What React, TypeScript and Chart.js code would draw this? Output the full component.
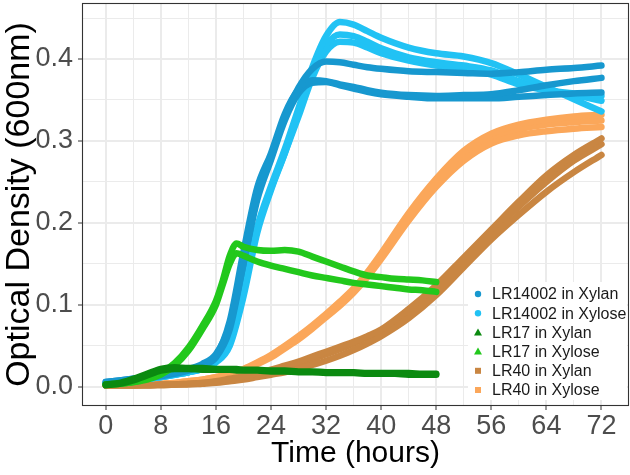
import React, { useEffect, useRef } from 'react';
import { Chart, registerables } from 'chart.js';

Chart.register(...registerables);

const FONT = "'Liberation Sans', Arial, Helvetica, sans-serif";

// ---------- data ----------
const hours = [0, 2, 4, 6, 8, 10, 12, 14, 16, 18, 20, 22, 24, 26, 28, 30, 32, 34, 36, 38, 40, 44, 48, 52, 56, 60, 64, 68, 72];
const hoursLR17 = [0, 2, 4, 6, 8, 10, 12, 14, 16, 17, 18, 19, 20, 22, 24, 26, 28, 30, 32, 34, 36, 38, 40, 42, 44, 46, 48];

// LR14002 in Xylan (3 replicates)
const lr14002XylanA = [0.006, 0.008, 0.010, 0.012, 0.015, 0.018, 0.022, 0.028, 0.040, 0.075, 0.150, 0.232, 0.280, 0.330, 0.365, 0.388, 0.397, 0.396, 0.393, 0.390, 0.388, 0.385, 0.384, 0.383, 0.382, 0.384, 0.387, 0.389, 0.392];
const lr14002XylanB = [0.006, 0.008, 0.010, 0.012, 0.014, 0.017, 0.021, 0.027, 0.038, 0.080, 0.165, 0.243, 0.285, 0.333, 0.363, 0.374, 0.373, 0.369, 0.366, 0.362, 0.359, 0.356, 0.355, 0.356, 0.357, 0.362, 0.368, 0.373, 0.377];
const lr14002XylanC = [0.005, 0.007, 0.009, 0.011, 0.013, 0.016, 0.020, 0.026, 0.036, 0.070, 0.150, 0.228, 0.277, 0.325, 0.358, 0.371, 0.372, 0.368, 0.364, 0.360, 0.357, 0.354, 0.352, 0.352, 0.352, 0.354, 0.356, 0.358, 0.359];

// LR14002 in Xylose (3 replicates)
const lr14002XyloseA = [0.004, 0.006, 0.008, 0.010, 0.012, 0.015, 0.018, 0.023, 0.032, 0.055, 0.120, 0.195, 0.245, 0.290, 0.340, 0.390, 0.428, 0.445, 0.442, 0.434, 0.426, 0.414, 0.407, 0.403, 0.395, 0.381, 0.366, 0.351, 0.336];
const lr14002XyloseB = [0.004, 0.006, 0.008, 0.010, 0.012, 0.015, 0.018, 0.022, 0.030, 0.050, 0.110, 0.188, 0.240, 0.285, 0.335, 0.383, 0.417, 0.430, 0.428, 0.421, 0.413, 0.402, 0.396, 0.392, 0.386, 0.373, 0.362, 0.356, 0.349];
const lr14002XyloseC = [0.004, 0.006, 0.008, 0.010, 0.012, 0.015, 0.018, 0.022, 0.031, 0.052, 0.115, 0.192, 0.242, 0.285, 0.330, 0.377, 0.409, 0.421, 0.420, 0.414, 0.407, 0.398, 0.392, 0.388, 0.381, 0.369, 0.362, 0.358, 0.355];

// LR17 in Xylan (2 replicates)
const lr17XylanA = [0.003, 0.005, 0.010, 0.016, 0.022, 0.024, 0.023, 0.023, 0.022, 0.022, 0.022, 0.022, 0.021, 0.021, 0.020, 0.020, 0.019, 0.019, 0.018, 0.018, 0.018, 0.017, 0.017, 0.017, 0.017, 0.016, 0.016];
const lr17XylanB = [0.002, 0.004, 0.008, 0.014, 0.020, 0.022, 0.022, 0.021, 0.021, 0.021, 0.021, 0.020, 0.020, 0.020, 0.019, 0.019, 0.018, 0.018, 0.017, 0.017, 0.017, 0.016, 0.016, 0.016, 0.015, 0.015, 0.015];

// LR17 in Xylose (2 replicates)
const lr17XyloseA = [0.003, 0.004, 0.006, 0.010, 0.017, 0.029, 0.048, 0.074, 0.105, 0.130, 0.160, 0.175, 0.171, 0.167, 0.166, 0.167, 0.165, 0.159, 0.153, 0.147, 0.141, 0.136, 0.134, 0.132, 0.131, 0.130, 0.128];
const lr17XyloseB = [0.003, 0.004, 0.006, 0.009, 0.015, 0.026, 0.044, 0.070, 0.100, 0.125, 0.150, 0.163, 0.160, 0.153, 0.148, 0.144, 0.140, 0.136, 0.133, 0.130, 0.127, 0.125, 0.123, 0.121, 0.119, 0.118, 0.116];

// LR40 in Xylan (3 replicates)
const lr40XylanA = [0.002, 0.002, 0.002, 0.002, 0.003, 0.003, 0.004, 0.005, 0.007, 0.010, 0.013, 0.017, 0.021, 0.026, 0.031, 0.037, 0.043, 0.049, 0.055, 0.062, 0.070, 0.095, 0.124, 0.158, 0.192, 0.226, 0.258, 0.283, 0.303];
const lr40XylanB = [0.002, 0.002, 0.002, 0.002, 0.002, 0.003, 0.003, 0.004, 0.005, 0.007, 0.009, 0.012, 0.015, 0.018, 0.022, 0.027, 0.032, 0.038, 0.045, 0.053, 0.062, 0.084, 0.112, 0.146, 0.180, 0.210, 0.238, 0.262, 0.283];
const lr40XylanC = [0.002, 0.002, 0.002, 0.002, 0.003, 0.003, 0.004, 0.005, 0.006, 0.009, 0.012, 0.015, 0.019, 0.024, 0.029, 0.034, 0.040, 0.046, 0.053, 0.061, 0.068, 0.092, 0.120, 0.154, 0.188, 0.220, 0.250, 0.276, 0.296];

// LR40 in Xylose (3 replicates)
const lr40XyloseA = [0.002, 0.002, 0.002, 0.003, 0.004, 0.005, 0.007, 0.009, 0.012, 0.016, 0.022, 0.030, 0.039, 0.050, 0.062, 0.075, 0.089, 0.104, 0.120, 0.140, 0.163, 0.212, 0.254, 0.288, 0.309, 0.320, 0.326, 0.330, 0.332];
const lr40XyloseB = [0.002, 0.002, 0.002, 0.003, 0.003, 0.004, 0.006, 0.008, 0.011, 0.015, 0.020, 0.028, 0.036, 0.047, 0.058, 0.071, 0.085, 0.099, 0.115, 0.134, 0.156, 0.203, 0.244, 0.276, 0.297, 0.307, 0.312, 0.315, 0.317];
const lr40XyloseC = [0.002, 0.002, 0.002, 0.003, 0.004, 0.005, 0.007, 0.009, 0.012, 0.016, 0.021, 0.029, 0.038, 0.049, 0.060, 0.073, 0.087, 0.102, 0.118, 0.137, 0.160, 0.208, 0.249, 0.282, 0.303, 0.314, 0.320, 0.323, 0.325];

const seriesNames = ['LR14002 in Xylan', 'LR14002 in Xylose', 'LR17 in Xylan', 'LR17 in Xylose', 'LR40 in Xylan', 'LR40 in Xylose'];
const seriesColors = ['#1798cf', '#21c2f4', '#0b8a10', '#22c81c', '#c98642', '#fba75a'];
const seriesShapes = ['circle', 'circle', 'triangle', 'triangle', 'square', 'square'];

const xTickValues = [0, 4, 8, 12, 16, 20, 24, 28, 32, 36, 40, 44, 48, 52, 56, 60, 64, 68, 72];
const yTickValues = [0, 0.05, 0.1, 0.15, 0.2, 0.25, 0.3, 0.35, 0.4, 0.45];

const isMajorX = (v: number) => Math.abs(v % 8) < 1e-6;
const isMajorY = (v: number) => Math.abs(Math.round(v * 10) - v * 10) < 1e-6;

const panelBorder = {
  id: 'panelBorder',
  afterDatasetsDraw(chart: any) {
    const { ctx, chartArea: a } = chart;
    ctx.save();
    ctx.strokeStyle = '#333333';
    ctx.lineWidth = 1.1;
    ctx.strokeRect(a.left + 0.5, a.top + 0.5, a.right - a.left - 1, a.bottom - a.top - 1);
    ctx.restore();
  },
};

const insideLegend = {
  id: 'insideLegend',
  afterDraw(chart: any) {
    const { ctx, chartArea: a } = chart;
    const boxX = a.right - 161;
    const boxY = a.bottom - 124;
    ctx.save();
    ctx.fillStyle = '#ffffff';
    ctx.fillRect(boxX, boxY, 159, 118);
    const rowH = 19.2;
    const firstY = a.bottom - 112;
    const mx = a.right - 151;
    ctx.font = `16px ${FONT}`;
    ctx.textBaseline = 'middle';
    ctx.textAlign = 'left';
    seriesNames.forEach((name, i) => {
      const cy = firstY + i * rowH;
      ctx.fillStyle = seriesColors[i];
      const shape = seriesShapes[i];
      if (shape === 'circle') {
        ctx.beginPath();
        ctx.arc(mx, cy, 3.2, 0, Math.PI * 2);
        ctx.fill();
      } else if (shape === 'triangle') {
        ctx.beginPath();
        ctx.moveTo(mx, cy - 4);
        ctx.lineTo(mx + 4, cy + 3);
        ctx.lineTo(mx - 4, cy + 3);
        ctx.closePath();
        ctx.fill();
      } else {
        ctx.fillRect(mx - 3, cy - 3, 6, 6);
      }
      ctx.fillStyle = '#1a1a1a';
      ctx.fillText(name, mx + 14, cy + 1);
    });
    ctx.restore();
  },
};

export default function App() {
  const ref = useRef<HTMLCanvasElement>(null);

  useEffect(() => {
    if (!ref.current) return;
    // drawing order: first dataset is painted on top
    const reps = [
      { s: 2, x: hoursLR17, y: lr17XylanA },
      { s: 2, x: hoursLR17, y: lr17XylanB },
      { s: 3, x: hoursLR17, y: lr17XyloseA },
      { s: 3, x: hoursLR17, y: lr17XyloseB },
      { s: 0, x: hours, y: lr14002XylanA },
      { s: 0, x: hours, y: lr14002XylanB },
      { s: 0, x: hours, y: lr14002XylanC },
      { s: 1, x: hours, y: lr14002XyloseA },
      { s: 1, x: hours, y: lr14002XyloseB },
      { s: 1, x: hours, y: lr14002XyloseC },
      { s: 4, x: hours, y: lr40XylanA },
      { s: 4, x: hours, y: lr40XylanB },
      { s: 4, x: hours, y: lr40XylanC },
      { s: 5, x: hours, y: lr40XyloseA },
      { s: 5, x: hours, y: lr40XyloseB },
      { s: 5, x: hours, y: lr40XyloseC },
    ];

    const chart = new Chart(ref.current, {
      type: 'line',
      data: {
        datasets: reps.map((r) => ({
          label: seriesNames[r.s],
          data: r.x.map((h, i) => ({ x: h, y: r.y[i] })),
          borderColor: seriesColors[r.s],
          backgroundColor: seriesColors[r.s],
          borderWidth: 6.5,
          pointRadius: 0,
          cubicInterpolationMode: 'monotone' as const,
          borderCapStyle: 'round' as const,
          borderJoinStyle: 'round' as const,
          fill: false,
        })),
      },
      options: {
        responsive: false,
        animation: false,
        devicePixelRatio: 1,
        layout: { padding: { top: 3, right: 1, left: 0, bottom: 0 } },
        plugins: { legend: { display: false }, tooltip: { enabled: false } },
        scales: {
          x: {
            type: 'linear',
            min: -3.45,
            max: 76,
            afterBuildTicks: (s: any) => {
              s.ticks = xTickValues.map((v) => ({ value: v }));
            },
            afterFit: (s: any) => {
              s.height = 69;
              s.paddingLeft = 0;
              s.paddingRight = 0;
            },
            ticks: {
              autoSkip: false,
              maxRotation: 0,
              padding: 0,
              color: '#4d4d4d',
              font: { size: 27, family: FONT },
              callback: (v: any) => (isMajorX(Number(v)) ? String(v) : ''),
            },
            grid: {
              color: '#ebebeb',
              lineWidth: (c: any) => (isMajorX(c.tick.value) ? 2 : 1),
              tickLength: 4,
              tickColor: (c: any) => (isMajorX(c.tick.value) ? '#333333' : 'rgba(0,0,0,0)'),
              tickWidth: 1,
            },
            border: { display: false },
            title: {
              display: true,
              text: 'Time (hours)',
              color: '#000000',
              font: { size: 30, family: FONT, lineHeight: 1 },
              padding: { top: 0, bottom: 6 },
            },
          },
          y: {
            type: 'linear',
            min: -0.0232,
            max: 0.4683,
            afterBuildTicks: (s: any) => {
              s.ticks = yTickValues.map((v) => ({ value: v }));
            },
            afterFit: (s: any) => {
              s.width = 82;
              s.paddingTop = 0;
              s.paddingBottom = 0;
            },
            ticks: {
              autoSkip: false,
              padding: 5,
              color: '#4d4d4d',
              font: { size: 27, family: FONT },
              callback: (v: any) => (isMajorY(Number(v)) ? Number(v).toFixed(1) : ''),
            },
            grid: {
              color: '#ebebeb',
              lineWidth: (c: any) => (isMajorY(c.tick.value) ? 2 : 1),
              tickLength: 4,
              tickColor: (c: any) => (isMajorY(c.tick.value) ? '#333333' : 'rgba(0,0,0,0)'),
              tickWidth: 1,
            },
            border: { display: false },
            title: {
              display: true,
              text: 'Optical Density (600nm)',
              color: '#000000',
              font: { size: 34, family: FONT, lineHeight: 1 },
              padding: { top: 3, bottom: 0 },
            },
          },
        },
      },
      plugins: [panelBorder, insideLegend],
    } as any);

    return () => chart.destroy();
  }, []);

  return (
    <div style={{ position: 'absolute', left: 0, top: 0, width: 630, height: 475, background: '#ffffff' }}>
      <canvas ref={ref} width={630} height={475} style={{ display: 'block', width: 630, height: 475 }} />
    </div>
  );
}
